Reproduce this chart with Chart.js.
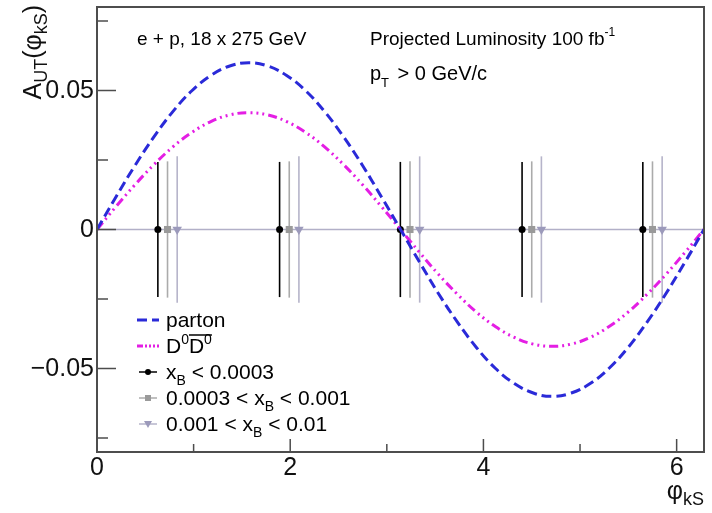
<!DOCTYPE html>
<html>
<head>
<meta charset="utf-8">
<script src="https://cdn.jsdelivr.net/npm/chart.js@4.4.1/dist/chart.umd.min.js"></script>
<style>
  html, body { margin: 0; padding: 0; background: #fff; }
  #wrap { width: 712px; height: 513px; }
</style>
</head>
<body>
<div id="wrap"><canvas id="c" width="712" height="513"></canvas></div>
<script>
// Azimuthal angle samples for the model curves
const phi = [0, 0.196, 0.393, 0.589, 0.785, 0.982, 1.178, 1.374, 1.571, 1.767, 1.963, 2.160, 2.356,
  2.553, 2.749, 2.945, 3.142, 3.338, 3.534, 3.731, 3.927, 4.123, 4.320, 4.516, 4.712, 4.909,
  5.105, 5.301, 5.498, 5.694, 5.890, 6.087, 6.283];
// Parton-level asymmetry
const parton = [0, 0.0117, 0.0230, 0.0333, 0.0424, 0.0499, 0.0554, 0.0588, 0.0600, 0.0588, 0.0554,
  0.0499, 0.0424, 0.0333, 0.0230, 0.0117, 0, -0.0117, -0.0230, -0.0333, -0.0424, -0.0499, -0.0554,
  -0.0588, -0.0600, -0.0588, -0.0554, -0.0499, -0.0424, -0.0333, -0.0230, -0.0117, 0];
// D0 D0bar pair asymmetry
const dpair = [0, 0.0082, 0.0161, 0.0233, 0.0297, 0.0349, 0.0388, 0.0412, 0.0420, 0.0412, 0.0388,
  0.0349, 0.0297, 0.0233, 0.0161, 0.0082, 0, -0.0082, -0.0161, -0.0233, -0.0297, -0.0349, -0.0388,
  -0.0412, -0.0420, -0.0412, -0.0388, -0.0349, -0.0297, -0.0233, -0.0161, -0.0082, 0];

// Projected points, three x_B bins
const phiLow = [0.63, 1.89, 3.14, 4.40, 5.65];
const asymLow = [0, 0, 0, 0, 0];
const errLow = [0.0243, 0.0243, 0.0243, 0.0243, 0.0243];

const phiMid = [0.73, 1.99, 3.24, 4.50, 5.75];
const asymMid = [0, 0, 0, 0, 0];
const errMid = [0.0245, 0.0245, 0.0245, 0.0245, 0.0245];

const phiHigh = [0.83, 2.09, 3.34, 4.60, 5.85];
const asymHigh = [0, 0, 0, 0, 0];
const errHigh = [0.0263, 0.0263, 0.0263, 0.0263, 0.0263];

// Axis ticks
const yTicks = [-0.075, -0.05, -0.025, 0, 0.025, 0.05, 0.075];
const yMajor = [-0.05, 0, 0.05];
const yTickLabels = ['\u22120.05', '0', '0.05'];
const xTicks = [0, 1, 2, 3, 4, 5, 6];
const xMajor = [0, 2, 4, 6];
const xTickLabels = ['0', '2', '4', '6'];

const FONT = '"Liberation Sans", Arial, Helvetica, sans-serif';
const C_PARTON = '#2a2ad8';
const C_DPAIR = '#e41ee4';
const C_LOW = '#000000';
const C_MID = '#9a9a9a';
const C_MID_BAR = '#ababab';
const C_HIGH = '#9c9abb';
const C_HIGH_BAR = '#b6b4ca';
const C_ZERO = '#b2b0c8';
const C_FRAME = '#4d4d4d';

const DASH_PARTON = [10, 5];
const DASH_DPAIR = [9, 4, 2, 4, 2, 4, 2, 4];

const xy = (xs, ys) => xs.map((x, i) => ({ x: x, y: ys[i] }));

// Draw a sequence of text runs (sub/superscripts) starting at x
function richWidth(ctx, parts) {
  let w = 0;
  for (const p of parts) { ctx.font = p.size + 'px ' + FONT; w += ctx.measureText(p.t).width + (p.gap || 0); }
  return w;
}
function drawRich(ctx, x, y, parts, align) {
  let cx = align === 'right' ? x - richWidth(ctx, parts) : x;
  const spans = [];
  for (const p of parts) {
    ctx.font = p.size + 'px ' + FONT;
    ctx.fillText(p.t, cx, y + (p.dy || 0));
    const w = ctx.measureText(p.t).width;
    spans.push([cx, cx + w]);
    cx += w + (p.gap || 0);
  }
  return spans;
}

const errorBars = {
  id: 'errorBars',
  beforeDatasetsDraw(chart) {
    const { ctx, chartArea: a, scales: { x, y } } = chart;
    ctx.save();
    // zero line
    ctx.strokeStyle = C_ZERO;
    ctx.lineWidth = 1.5;
    ctx.beginPath();
    ctx.moveTo(a.left, y.getPixelForValue(0));
    ctx.lineTo(a.right, y.getPixelForValue(0));
    ctx.stroke();
    const groups = [
      [phiLow, asymLow, errLow, C_LOW],
      [phiMid, asymMid, errMid, C_MID_BAR],
      [phiHigh, asymHigh, errHigh, C_HIGH_BAR]
    ];
    for (const [xs, ys, es, col] of groups) {
      ctx.strokeStyle = col;
      ctx.lineWidth = 1.6;
      xs.forEach((v, i) => {
        const px = x.getPixelForValue(v);
        ctx.beginPath();
        ctx.moveTo(px, y.getPixelForValue(ys[i] - es[i]));
        ctx.lineTo(px, y.getPixelForValue(ys[i] + es[i]));
        ctx.stroke();
      });
    }
    ctx.restore();
  }
};

function legendMarker(ctx, style, cx, cy, col) {
  ctx.fillStyle = col;
  ctx.beginPath();
  if (style === 'circle') {
    ctx.arc(cx, cy, 3, 0, Math.PI * 2);
  } else if (style === 'rect') {
    ctx.rect(cx - 3, cy - 3, 6, 6);
  } else {
    ctx.moveTo(cx - 4, cy - 3);
    ctx.lineTo(cx + 4, cy - 3);
    ctx.lineTo(cx, cy + 4);
    ctx.closePath();
  }
  ctx.fill();
}

const frameAndText = {
  id: 'frameAndText',
  afterDraw(chart) {
    const { ctx, chartArea: a, scales: { x, y } } = chart;
    ctx.save();
    ctx.fillStyle = '#000';
    ctx.textBaseline = 'alphabetic';

    // frame
    ctx.strokeStyle = C_FRAME;
    ctx.lineWidth = 2;
    ctx.strokeRect(a.left, a.top, a.right - a.left, a.bottom - a.top);

    // inward ticks
    ctx.lineWidth = 1.5;
    ctx.beginPath();
    for (const v of yTicks) {
      const py = y.getPixelForValue(v);
      const len = yMajor.includes(v) ? 19 : 11;
      ctx.moveTo(a.left, py); ctx.lineTo(a.left + len, py);
    }
    for (const v of xTicks) {
      const px = x.getPixelForValue(v);
      const len = xMajor.includes(v) ? 13 : 8;
      ctx.moveTo(px, a.bottom); ctx.lineTo(px, a.bottom - len);
    }
    ctx.stroke();

    // tick labels
    ctx.fillStyle = '#111';
    ctx.font = '25px ' + FONT;
    ctx.textAlign = 'right';
    ctx.textBaseline = 'middle';
    yMajor.forEach((v, i) => ctx.fillText(yTickLabels[i], a.left - 3, y.getPixelForValue(v) + 1));
    ctx.textAlign = 'center';
    ctx.textBaseline = 'alphabetic';
    xMajor.forEach((v, i) => ctx.fillText(xTickLabels[i], x.getPixelForValue(v), a.bottom + 23));
    ctx.textAlign = 'left';

    // x axis title
    drawRich(ctx, a.right, 499, [
      { t: '\u03c6', size: 25 },
      { t: 'kS', size: 18, dy: 6 }
    ], 'right');

    // y axis title (rotated)
    ctx.save();
    ctx.translate(41, a.top - 2);
    ctx.rotate(-Math.PI / 2);
    drawRich(ctx, 0, 0, [
      { t: 'A', size: 25 },
      { t: 'UT', size: 18, dy: 6 },
      { t: '(\u03c6', size: 25 },
      { t: 'kS', size: 18, dy: 6 },
      { t: ')', size: 25 }
    ], 'right');
    ctx.restore();

    // annotations
    ctx.fillStyle = '#000';
    ctx.font = '19px ' + FONT;
    ctx.fillText('e + p, 18 x 275 GeV', 137, 45);
    drawRich(ctx, 370, 45, [
      { t: 'Projected Luminosity 100 fb', size: 19 },
      { t: '-1', size: 12, dy: -9 }
    ]);
    drawRich(ctx, 370, 80, [
      { t: 'p', size: 20 },
      { t: 'T', size: 13, dy: 7, gap: 3 },
      { t: ' > 0 GeV/c', size: 20 }
    ]);

    // legend
    const lx0 = 137, lx1 = 159, tx = 166;
    const rows = [320, 346, 372, 398, 424];
    ctx.lineWidth = 3;
    ctx.strokeStyle = C_PARTON;
    ctx.setLineDash(DASH_PARTON);
    ctx.beginPath(); ctx.moveTo(lx0, rows[0]); ctx.lineTo(lx1, rows[0]); ctx.stroke();
    ctx.strokeStyle = C_DPAIR;
    ctx.setLineDash([6, 2, 2, 2, 2, 2, 2, 2]);
    ctx.beginPath(); ctx.moveTo(lx0, rows[1]); ctx.lineTo(lx1, rows[1]); ctx.stroke();
    ctx.setLineDash([]);
    ctx.lineWidth = 1.5;
    const pts = [[C_LOW, C_LOW, 'circle'], [C_MID_BAR, C_MID, 'rect'], [C_HIGH_BAR, C_HIGH, 'tri']];
    pts.forEach(([lc, mc, st], i) => {
      const ry = rows[i + 2];
      ctx.strokeStyle = lc;
      ctx.beginPath(); ctx.moveTo(lx0 + 2, ry); ctx.lineTo(lx1 - 2, ry); ctx.stroke();
      legendMarker(ctx, st, (lx0 + lx1) / 2, ry, mc);
    });

    ctx.fillStyle = '#000';
    const base = 7;
    const LS = 21, LSub = 14;
    drawRich(ctx, tx, rows[0] + base, [{ t: 'parton', size: LS }]);
    const sp = drawRich(ctx, tx, rows[1] + base, [
      { t: 'D', size: LS }, { t: '0', size: LSub, dy: -9 },
      { t: 'D', size: LS }, { t: '0', size: LSub, dy: -9 }
    ]);
    ctx.strokeStyle = '#000';
    ctx.lineWidth = 1.5;
    ctx.beginPath(); ctx.moveTo(sp[2][0], rows[1] - 11); ctx.lineTo(sp[3][1], rows[1] - 11); ctx.stroke();
    drawRich(ctx, tx, rows[2] + base, [
      { t: 'x', size: LS }, { t: 'B', size: LSub, dy: 6 }, { t: ' < 0.0003', size: LS }
    ]);
    drawRich(ctx, tx, rows[3] + base, [
      { t: '0.0003 < x', size: LS }, { t: 'B', size: LSub, dy: 6 }, { t: ' < 0.001', size: LS }
    ]);
    drawRich(ctx, tx, rows[4] + base, [
      { t: '0.001 < x', size: LS }, { t: 'B', size: LSub, dy: 6 }, { t: ' < 0.01', size: LS }
    ]);
    ctx.restore();
  }
};

new Chart(document.getElementById('c'), {
  type: 'scatter',
  data: {
    datasets: [
      {
        label: 'parton', type: 'line', data: xy(phi, parton),
        borderColor: C_PARTON, borderWidth: 3, borderDash: DASH_PARTON,
        pointRadius: 0, tension: 0.4, fill: false, order: 1
      },
      {
        label: 'D0D0bar', type: 'line', data: xy(phi, dpair),
        borderColor: C_DPAIR, borderWidth: 3, borderDash: DASH_DPAIR,
        pointRadius: 0, tension: 0.4, fill: false, order: 2
      },
      {
        label: 'xB < 0.0003', data: xy(phiLow, asymLow),
        pointStyle: 'circle', pointRadius: 3.5, backgroundColor: C_LOW, borderColor: C_LOW,
        borderWidth: 0, order: 3
      },
      {
        label: '0.0003 < xB < 0.001', data: xy(phiMid, asymMid),
        pointStyle: 'rect', pointRadius: 5, backgroundColor: C_MID, borderColor: C_MID,
        borderWidth: 0, order: 4
      },
      {
        label: '0.001 < xB < 0.01', data: xy(phiHigh, asymHigh),
        pointStyle: 'triangle', rotation: 180, pointRadius: 5.5, backgroundColor: C_HIGH,
        borderColor: C_HIGH, borderWidth: 0, order: 5
      }
    ]
  },
  options: {
    responsive: false,
    animation: false,
    layout: { padding: { left: 97, top: 7, right: 8, bottom: 61 } },
    scales: {
      x: { type: 'linear', min: 0, max: 6.2832, display: false },
      y: { type: 'linear', min: -0.08, max: 0.08, display: false }
    },
    plugins: { legend: { display: false }, tooltip: { enabled: false } }
  },
  plugins: [errorBars, frameAndText]
});
</script>
</body>
</html>
